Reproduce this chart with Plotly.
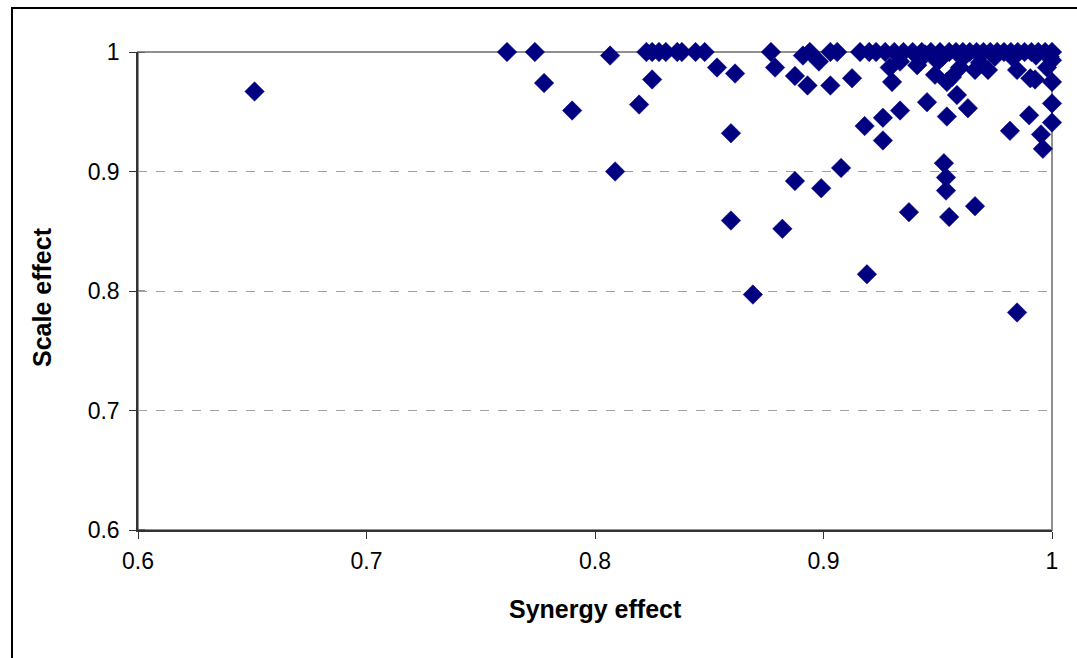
import plotly.graph_objects as go

# Synergy effect (x) and Scale effect (y)
synergy = [
    0.651, 0.7615, 0.7737, 0.7777, 0.790, 0.8066, 0.8088, 0.8193, 0.825,
    0.8225, 0.825, 0.828, 0.831, 0.836, 0.838, 0.844, 0.848,
    0.8534, 0.8613, 0.8595, 0.8595, 0.8691, 0.877, 0.8788, 0.882,
    0.8875, 0.891, 0.894, 0.898, 0.893, 0.903, 0.903, 0.906, 0.9125,
    0.8875, 0.899, 0.9077, 0.919, 0.918, 0.926, 0.926, 0.9335, 0.930,
    0.929, 0.9335, 0.9374, 0.9453, 0.954, 0.9632, 0.9527, 0.9536, 0.9536,
    0.955, 0.9663, 0.9847, 0.9816, 0.990, 0.9952, 0.996, 1.0, 1.0, 1.0,
    0.9926, 0.9978, 0.9847, 0.9663, 0.972, 0.9685, 0.9597, 0.950, 0.954,
    0.9488, 0.9562, 0.9584, 0.941, 1.0, 0.9905, 0.9445,
    0.916, 0.920, 0.923, 0.927, 0.931, 0.935, 0.939, 0.943, 0.947, 0.951,
    0.955, 0.958, 0.961, 0.964, 0.967, 0.970, 0.973, 0.976, 0.979, 0.982,
    0.985, 0.988, 0.991, 0.994, 0.997, 1.0,
    0.952, 0.962, 0.975, 0.983, 0.993, 0.999,
]
scale = [
    0.967, 1.0, 1.0, 0.974, 0.951, 0.997, 0.900, 0.956, 0.977,
    1.0, 1.0, 1.0, 1.0, 1.0, 1.0, 1.0, 1.0,
    0.987, 0.982, 0.932, 0.859, 0.797, 1.0, 0.987, 0.852,
    0.980, 0.997, 1.0, 0.992, 0.972, 0.972, 1.0, 1.0, 0.978,
    0.892, 0.886, 0.903, 0.814, 0.938, 0.945, 0.926, 0.951, 0.975,
    0.987, 0.992, 0.866, 0.958, 0.946, 0.953, 0.907, 0.895, 0.884,
    0.862, 0.871, 0.782, 0.934, 0.947, 0.931, 0.919, 0.941, 0.957, 0.975,
    0.977, 0.987, 0.985, 0.985, 0.985, 0.991, 0.987, 0.992, 0.975,
    0.981, 0.979, 0.964, 0.989, 0.993, 0.978, 0.998,
    1.0, 1.0, 1.0, 1.0, 1.0, 1.0, 1.0, 1.0, 1.0, 1.0,
    1.0, 1.0, 1.0, 1.0, 1.0, 1.0, 1.0, 1.0, 1.0, 1.0,
    1.0, 1.0, 1.0, 1.0, 1.0, 1.0,
    0.996, 0.997, 0.996, 0.995, 0.997, 0.996,
]

y_ticks = [0.6, 0.7, 0.8, 0.9, 1.0]
x_title = "Synergy effect"
y_title = "Scale effect"

fig = go.Figure()
fig.add_trace(go.Scatter(
    x=synergy, y=scale, mode="markers",
    marker=dict(symbol="diamond", size=15, color="#000080",
                line=dict(width=0.5, color="#000080")),
    cliponaxis=False, showlegend=False,
))

axis_common = dict(
    range=[0.6, 1.0], dtick=0.1, tick0=0.6,
    showline=True, linecolor="#333333", linewidth=1.5,
    ticks="outside", ticklen=7, tickcolor="#333333", tickwidth=1,
    tickfont=dict(family="Liberation Sans, Arial", size=23, color="#000000"),
    zeroline=False,
)

fig.update_xaxes(**axis_common, showgrid=False, ticklabelstandoff=3)
fig.update_yaxes(**axis_common, showgrid=True, gridcolor="#A0A0A0",
                 griddash="dash", gridwidth=1, ticklabelstandoff=5)

shapes = [
    # plot-area border (gray), top edge is the y=1 line
    dict(type="rect", xref="x domain", yref="y domain",
         x0=0, x1=1, y0=0, y1=1, layer="below",
         line=dict(color="#909090", width=2)),
    # outer chart frame
    dict(type="rect", xref="paper", yref="paper",
         x0=(12 - 138) / 914, x1=(1095 - 138) / 914,
         y0=(530 - 680) / 478, y1=(530 - 8) / 478,
         layer="below", line=dict(color="#000000", width=2)),
]
# inner half of the crossing y ticks
for v in y_ticks:
    shapes.append(dict(type="line", xref="x domain", yref="y",
                       x0=0, x1=7 / 914, y0=v, y1=v, layer="below",
                       line=dict(color="#333333", width=1)))

fig.update_layout(
    width=1077, height=658,
    margin=dict(l=138, r=25, t=52, b=128),
    paper_bgcolor="white", plot_bgcolor="white",
    font=dict(family="Liberation Sans, Arial"),
    shapes=shapes,
    annotations=[
        dict(text=f"<b>{x_title}</b>", xref="paper", yref="paper",
             x=0.5, y=(530 - 609) / 478, xanchor="center", yanchor="middle",
             showarrow=False, font=dict(size=25, color="#000000")),
        dict(text=f"<b>{y_title}</b>", xref="paper", yref="paper",
             x=(42 - 138) / 914, y=(530 - 297) / 478, xanchor="center",
             yanchor="middle", textangle=-90, showarrow=False,
             font=dict(size=25, color="#000000")),
    ],
)

fig.write_html("out.html")
